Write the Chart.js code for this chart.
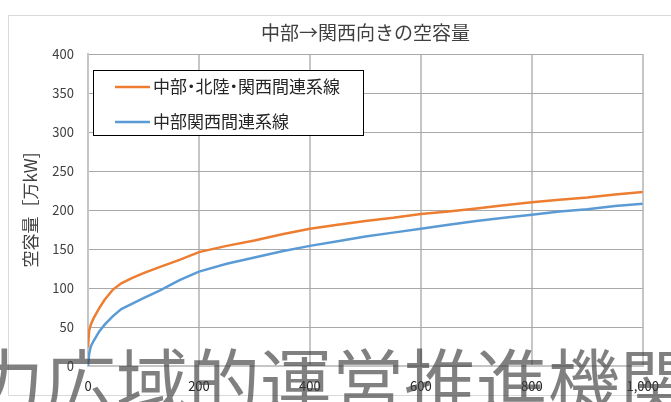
<!DOCTYPE html>
<html>
<head>
<meta charset="utf-8">
<script src="https://cdn.jsdelivr.net/npm/chart.js@4"></script>
<style>
  body { margin: 0; background: #fff; }
  #wrap { width: 671px; height: 402px; }
</style>
</head>
<body>
<div id="wrap"><canvas id="chart" width="671" height="402"></canvas></div>
<script>
// 横軸の位置（共通）
const xValues = [0, 2, 5, 10, 20, 30, 45, 60, 80, 100, 130, 165, 200, 250, 300, 350, 400, 450, 500, 550, 600, 650, 700, 750, 800, 850, 900, 950, 1000];

// 空容量 [万kW]
const hokurikuValues = [24, 45, 53, 61, 74, 85, 98, 106, 113, 119, 127, 136, 146, 154, 161, 169, 176, 181, 186, 190, 195, 198, 202, 206, 210, 213, 216, 220, 223];
const kansaiValues = [0, 15, 25, 32, 44, 53, 64, 73, 80, 87, 97, 110, 121, 131, 139, 147, 154, 160, 166, 171, 176, 181, 186, 190, 194, 198, 201, 205, 208];

const seriesNames = ['中部・北陸・関西間連系線', '中部関西間連系線'];
const yTicks = [0, 50, 100, 150, 200, 250, 300, 350, 400];
const xTicks = [0, 200, 400, 600, 800, 1000];

const chartTitle = '中部→関西向きの空容量';
const yTitle = '空容量［万kW]';
const footerText = '力広域的運営推進機関';

const FONT = '"Noto Sans CJK JP", "Noto Sans", sans-serif';

function toPoints(ys) {
    return xValues.map((x, i) => ({ x: x, y: ys[i] }));
}

// 中黒だけ詰めて1文字ずつ描く
function drawLabel(ctx, text, x, y, size) {
    for (const ch of text) {
        if (ch === '・') {
            ctx.fillText(ch, x - size * 0.25, y);
            x += size * 0.5;
        } else {
            ctx.fillText(ch, x, y);
            x += ctx.measureText(ch).width;
        }
    }
}

// 枠・タイトル・凡例・フッター文字を描く
const decorations = {
    id: 'decorations',
    beforeDraw(chart) {
        const ctx = chart.ctx;
        ctx.save();
        ctx.fillStyle = '#fff';
        ctx.fillRect(0, 0, chart.width, chart.height);
        ctx.strokeStyle = '#d9d9d9';
        ctx.lineWidth = 1;
        ctx.strokeRect(8.5, 15.5, 700, 380);
        ctx.restore();
    },
    afterDraw(chart) {
        const ctx = chart.ctx;
        const area = chart.chartArea;
        ctx.save();

        // タイトル
        ctx.fillStyle = '#404040';
        ctx.font = '19px ' + FONT;
        ctx.textAlign = 'center';
        ctx.textBaseline = 'middle';
        ctx.fillText(chartTitle, (area.left + area.right) / 2, 33);

        // 凡例
        ctx.fillStyle = '#fff';
        ctx.fillRect(93.5, 70.5, 270, 65);
        ctx.strokeStyle = '#000';
        ctx.lineWidth = 1;
        ctx.strokeRect(93.5, 70.5, 270, 65);
        ctx.textAlign = 'left';
        ctx.font = '17px ' + FONT;
        chart.data.datasets.forEach((ds, i) => {
            const y = 87 + i * 35;
            ctx.strokeStyle = ds.borderColor;
            ctx.lineWidth = 2.5;
            ctx.beginPath();
            ctx.moveTo(115, y);
            ctx.lineTo(150, y);
            ctx.stroke();
            ctx.fillStyle = '#262626';
            drawLabel(ctx, ds.label, 153, y, 17);
        });

        // フッター文字（半透明で下の目盛りが透ける）
        ctx.fillStyle = 'rgba(60, 60, 60, 0.65)';
        ctx.font = '72px ' + FONT;
        ctx.textBaseline = 'alphabetic';
        ctx.fillText(footerText, -28, 409);
        ctx.restore();
    }
};

const ctx = document.getElementById('chart').getContext('2d');
const chart = new Chart(ctx, {
    type: 'line',
    data: {
        datasets: [{
            label: seriesNames[0],
            data: toPoints(hokurikuValues),
            borderColor: '#ED7D31',
            borderWidth: 2.5,
            pointRadius: 0,
            tension: 0
        }, {
            label: seriesNames[1],
            data: toPoints(kansaiValues),
            borderColor: '#5B9BD5',
            borderWidth: 2.5,
            pointRadius: 0,
            tension: 0
        }]
    },
    options: {
        responsive: false,
        animation: false,
        layout: { padding: { left: 20, right: 25, top: 54, bottom: 0 } },
        plugins: {
            legend: { display: false },
            title: { display: false },
            tooltip: { enabled: false }
        },
        scales: {
            x: {
                type: 'linear',
                min: 0,
                max: 1000,
                afterFit: scale => { scale.height = 36; },
                afterBuildTicks: scale => { scale.ticks = xTicks.map(v => ({ value: v })); },
                ticks: {
                    padding: 12,
                    color: '#262626',
                    font: { size: 13, family: FONT },
                    maxRotation: 0,
                    callback: v => v.toLocaleString('en-US')
                },
                grid: { color: '#c6c6c6', lineWidth: 2, drawTicks: false },
                border: { color: '#c6c6c6', width: 2 }
            },
            y: {
                min: 0,
                max: 400,
                afterFit: scale => { scale.width = 68; },
                afterBuildTicks: scale => { scale.ticks = yTicks.map(v => ({ value: v })); },
                ticks: {
                    padding: 14,
                    color: '#404040',
                    font: { size: 13, family: FONT }
                },
                title: {
                    display: true,
                    text: yTitle,
                    color: '#404040',
                    font: { size: 17, family: FONT },
                    padding: 0
                },
                grid: { color: '#a8a8a8', lineWidth: 1, drawTicks: false },
                border: { color: '#c6c6c6', width: 2 }
            }
        }
    },
    plugins: [decorations]
});
</script>
</body>
</html>
